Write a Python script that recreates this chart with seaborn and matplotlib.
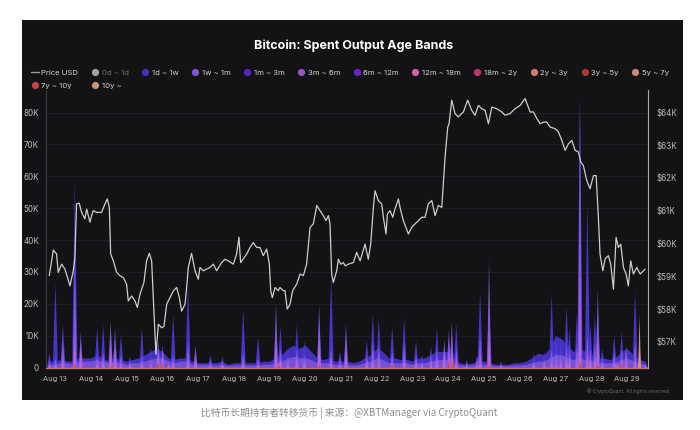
import numpy as np
import pandas as pd
import matplotlib
matplotlib.use("Agg")
import matplotlib.pyplot as plt
from matplotlib.lines import Line2D
from matplotlib.patches import Rectangle
import seaborn as sns

# hours counted from Aug 13 00:00, prices in thousand USD
price_hours = [-3.8, -1.1, 1.1, 2.2, 4.5, 6.7, 10.1, 12.3, 13.4, 14.5,
               16.3, 17.9, 20.1, 21.3, 23.5, 24.6, 25.7, 28.0, 31.3, 33.6,
               35.1, 36.5, 37.4, 39.2, 41.4, 43.6, 45.9, 48.1, 49.2, 51.5,
               53.7, 55.3, 57.1, 59.7, 61.5, 63.3, 64.9, 66.0, 67.8, 69.4,
               71.6, 73.2, 75.0, 77.2, 79.5, 81.7, 83.5, 85.0, 86.2, 87.3,
               88.4, 89.5, 91.7, 94.0, 96.2, 97.3, 99.6, 104.1, 106.3, 108.5,
               111.9, 114.1, 116.4, 119.7, 121.9, 123.5, 124.6, 128.7, 130.9, 133.1,
               135.4, 137.6, 139.8, 142.1, 143.9, 144.8, 145.9, 147.7, 149.9, 151.0,
               153.3, 154.4, 155.9, 157.8, 159.5, 162.2, 164.5, 166.7, 168.9, 171.2,
               173.4, 175.7, 177.9, 180.1, 181.9, 183.5, 184.6, 185.7, 186.8, 189.1,
               190.2, 191.8, 193.6, 194.7, 196.9, 200.3, 202.5, 204.8, 208.1, 210.3,
               211.9, 213.7, 214.8, 217.0, 219.3, 220.4, 222.2, 223.1, 224.9, 226.7,
               228.2, 230.5, 231.6, 233.8, 237.2, 239.4, 241.7, 243.9, 246.2, 248.4,
               250.6, 252.9, 255.1, 257.3, 259.6, 261.8, 263.6, 264.5, 266.3, 268.5,
               270.7, 274.1, 277.0, 279.7, 281.9, 284.2, 286.4, 288.7, 290.9, 293.2,
               296.5, 299.9, 302.1, 305.4, 308.8, 312.2, 315.5, 318.9, 321.1, 323.4,
               325.6, 327.9, 330.1, 332.3, 335.7, 337.9, 340.2, 342.4, 344.6, 346.9,
               349.1, 351.3, 352.9, 354.6, 356.9, 359.1, 361.4, 363.2, 364.7, 365.8,
               367.7, 369.2, 371.4, 373.0, 374.8, 376.6, 378.1, 379.7, 381.5, 383.3,
               384.8, 386.4, 388.2, 390.5, 392.7, 396.1]
price_k = [59.02, 59.80, 59.68, 59.12, 59.37, 59.22, 58.71, 59.17, 59.57, 61.21,
           61.23, 60.95, 60.75, 61.05, 60.65, 60.85, 61.00, 60.95, 60.95, 61.21,
           61.36, 61.10, 59.68, 59.47, 59.12, 59.02, 58.96, 58.76, 58.25, 58.40,
           58.25, 58.05, 58.46, 58.81, 59.47, 59.70, 59.47, 58.35, 56.62, 57.54,
           57.43, 57.48, 58.15, 58.35, 58.56, 58.66, 58.35, 57.94, 58.05, 58.15,
           58.66, 59.27, 59.70, 59.17, 58.91, 59.27, 59.17, 59.27, 59.37, 59.17,
           59.42, 59.52, 59.47, 59.37, 59.68, 60.19, 59.42, 59.68, 59.88, 60.03,
           59.88, 59.88, 59.63, 59.83, 59.37, 58.56, 58.35, 58.66, 58.56, 58.66,
           58.56, 58.56, 58.00, 58.15, 58.56, 58.76, 59.07, 59.02, 59.37, 60.49,
           60.60, 61.16, 61.00, 60.85, 60.70, 60.85, 60.60, 59.07, 58.81, 59.17,
           59.52, 59.37, 59.42, 59.32, 59.37, 59.42, 59.73, 59.47, 59.98, 59.52,
           59.98, 61.10, 61.61, 61.31, 61.21, 60.80, 60.29, 60.90, 61.00, 60.80,
           61.05, 61.36, 61.10, 60.70, 60.29, 60.49, 60.60, 60.70, 60.80, 60.80,
           61.21, 61.31, 60.85, 61.16, 61.10, 62.63, 63.55, 63.65, 64.37, 63.96,
           63.86, 64.01, 64.37, 64.06, 63.91, 64.21, 64.11, 64.06, 63.65, 64.16,
           64.11, 64.01, 63.91, 63.96, 64.11, 64.21, 64.42, 64.01, 64.01, 63.81,
           63.65, 63.70, 63.70, 63.55, 63.50, 63.40, 63.14, 62.84, 63.04, 63.14,
           62.84, 62.79, 62.48, 62.38, 61.92, 61.67, 62.07, 62.07, 60.80, 59.68,
           59.17, 59.53, 59.63, 59.37, 58.61, 60.19, 59.88, 59.98, 59.27, 59.07,
           58.71, 59.47, 59.07, 59.27, 59.07, 59.22]

# background level of spent outputs every 4 hours (thousand BTC)
base_hours = list(range(-4, 397, 4))
base_1d_1w = [2,
              2, 2.5, 2, 2, 3, 3,
              3, 4, 3, 2, 3, 2.5,
              2, 2.5, 3, 4, 5, 6,
              5, 3, 2.5, 3, 3, 2,
              1.5, 1.5, 1.5, 1.5, 2, 1,
              1.5, 1.5, 1.5, 1.5, 1.5, 2,
              2, 3, 4, 6, 7, 6,
              7, 5, 3, 2.5, 3, 2,
              2, 2, 1.5, 2, 3, 4,
              6, 5, 3, 3, 2.5, 2.5,
              2, 3, 3, 4, 5, 5,
              5, 2, 1.5, 1, 1.5, 2,
              2, 1.5, 1, 1, 1, 1.5,
              1.5, 2, 3, 4.5, 4, 6,
              10, 9, 7, 5, 6, 5,
              4, 3, 3, 2.5, 3, 5,
              6, 4, 2.5, 2]
base_1w_1m = [1,
              1, 1.5, 1.5, 1, 2, 2,
              2, 2.5, 2, 1.5, 2, 1.5,
              1, 1.5, 1.5, 2, 2.5, 3,
              3, 2, 1.5, 2, 2, 1,
              1, 1, 0.8, 0.8, 1, 0.6,
              0.8, 0.8, 0.8, 0.8, 0.8, 1,
              1, 1.5, 2, 3, 3.5, 3,
              3, 2.5, 1.5, 1.5, 1.5, 1,
              1, 1, 0.8, 1, 1.5, 2,
              3, 2.5, 1.5, 1.5, 1.5, 1.5,
              1, 1.5, 1.5, 2, 2.5, 2.5,
              2.5, 1, 0.8, 0.6, 0.8, 1,
              1, 0.8, 0.6, 0.6, 0.6, 0.8,
              0.8, 1, 1.5, 2, 2, 3,
              4, 4, 3, 2.5, 3, 2.5,
              2, 1.5, 1.5, 1.5, 1.5, 2.5,
              3, 2, 1.5, 1]

# hourly spikes
spike_hours = [-4, 0, 5, 13, 17, 28, 32, 37, 40, 44, 50, 58, 64, 69, 72, 76, 79, 89,
               94, 104, 112, 126, 136, 148, 151, 156, 162, 167, 177, 185, 191, 195,
               209, 213, 217, 226, 234, 242, 246, 252, 256, 261, 264, 266, 269, 276,
               283, 285, 291, 299, 321, 328, 333, 336, 339, 343, 345, 350, 352, 357,
               359, 362, 364, 367, 375, 377, 380, 383, 389, 392, 396]
spike_1d_1w = [4.7, 26.5, 13.5, 58.6, 8, 12.6, 13.5, 12, 9, 10.3, 3.5, 12.6, 6.3, 7,
               5, 3, 16.5, 26, 5, 4, 3.5, 18.3, 9.5, 14, 13, 5, 13.5, 8.5, 15, 28.5,
               5, 10, 8.5, 17.1, 15.6, 13, 15.6, 8.5, 4, 6.7, 12.4, 6, 9, 10, 13.7,
               2.5, 4, 23.7, 20, 2, 4.5, 5, 23.1, 10, 8.5, 19.2, 12, 17.6, 84.3, 51.9,
               13.5, 16.6, 18, 6, 10.1, 4, 11.2, 5, 23.9, 6, 2]
spike_1w_1m = [2, 3, 9, 35, 11.2, 4, 5, 14.7, 12.5, 4, 2, 4, 3, 8.3, 7, 2, 4, 8, 7,
               2.5, 2, 5, 3, 20.2, 6, 3, 6, 4, 20, 6, 3, 13.8, 4, 8, 7, 5, 8, 4, 2,
               4, 6, 8.8, 11.9, 14.5, 6, 1.5, 3, 10, 34.2, 1, 2, 2.5, 6, 5, 4, 7, 6,
               8, 83.5, 10, 6, 8, 24.8, 3, 5, 2, 6, 7, 8, 4, 1]
spike_3m_6m = [0.5, 1, 3, 10, 6, 1.5, 2, 8, 6, 1.5, 1, 1.5, 1, 5, 4, 1, 2, 3, 3, 1,
               1, 2, 1, 9, 3, 1, 3, 2, 10, 3, 1, 6, 2, 3, 3, 2, 3, 2, 1, 2, 3, 5, 5,
               6, 3, 0.5, 1, 4, 12, 0.5, 1, 1, 2, 2, 2, 3, 3, 3, 30, 4, 3, 4, 10, 1,
               2, 1, 3, 3, 3, 2, 0.5]

# older coins, small moves
old_hours = [13, 38, 69, 72, 150, 177, 226, 264, 267, 291, 352, 364, 380, 392]
old_12m_18m = [3, 2, 2.5, 2, 2, 3, 1.5, 2, 2, 3, 6, 3, 2, 1]
old_7y_10y = [1.5, 1, 2, 1.5, 1, 1, 1.2, 2.5, 3, 1, 1.5, 1, 2, 1.5]
old_10y = [0, 0, 0, 0, 0, 0, 0, 0, 0, 0, 0, 0, 0, 16.3]

band_labels = ["0d ~ 1d", "1d ~ 1w", "1w ~ 1m", "1m ~ 3m", "3m ~ 6m", "6m ~ 12m",
               "12m ~ 18m", "18m ~ 2y", "2y ~ 3y", "3y ~ 5y", "5y ~ 7y", "7y ~ 10y", "10y ~"]
band_colors = ["#a3a3a3", "#4232c2", "#7d55d6", "#5a24c4", "#9b52cc", "#6e22c8",
               "#d062ae", "#c2336f", "#d57c6c", "#a63b2c", "#c98b72", "#c94343", "#cf9468"]

assert len(price_hours) == len(price_k)
assert len(base_hours) == len(base_1d_1w) == len(base_1w_1m)
assert len(spike_hours) == len(spike_1d_1w) == len(spike_1w_1m) == len(spike_3m_6m)

days = pd.date_range("2024-08-13", "2024-08-29", freq="D")
day_hours = [(d - days[0]).days * 24 for d in days]

BG = "#131316"
sns.set_style("dark")
plt.rcParams["font.family"] = ["Inter", "DejaVu Sans"]

fig = plt.figure(figsize=(7, 4.3), dpi=100, facecolor="white")
fig.patches.append(Rectangle((22 / 700, 1 - 400 / 430), 661 / 700, 380 / 430,
                             transform=fig.transFigure, facecolor=BG,
                             edgecolor="none", zorder=-10))
ax = fig.add_axes([46 / 700, 1 - 367.5 / 430, 602 / 700, 277.5 / 430])
ax.set_facecolor(BG)

fig.text(345 / 700, 1 - 222 / 430, "CryptoQuant", color="#2a2a2f",
         fontsize=19, fontweight="semibold", ha="center", va="center", zorder=-5)

C_BLUE, C_VIOLET, C_PINK = "#4c37d8", "#8c5fe2", "#c06ad8"


def draw_spikes(hours, values, half, color, alpha):
    for h, v in zip(hours, values):
        if v > 0:
            ax.fill_between([h - half, h, h + half], [0, v, 0],
                            color=color, alpha=alpha, lw=0)


ax.fill_between(base_hours, base_1d_1w, color=C_BLUE, alpha=0.85, lw=0)
draw_spikes(spike_hours, spike_1d_1w, 1.8, C_BLUE, 0.92)
ax.fill_between(base_hours, base_1w_1m, color=C_VIOLET, alpha=0.7, lw=0)
draw_spikes(spike_hours, spike_1w_1m, 1.3, C_VIOLET, 0.85)
draw_spikes(spike_hours, spike_3m_6m, 1.0, C_PINK, 0.75)
draw_spikes(old_hours, old_12m_18m, 0.9, band_colors[6], 0.8)
draw_spikes(old_hours, old_7y_10y, 0.8, band_colors[11], 0.9)
draw_spikes(old_hours, old_10y, 0.9, "#e09a66", 0.95)

ax.set_xlim(-6, 398)
ax.set_ylim(0, 87.1)
ax.set_yticks(range(0, 81, 10))
ax.set_yticklabels(["0"] + [f"{v}K" for v in range(10, 81, 10)])
ax.set_xticks(day_hours)
ax.set_xticklabels([d.strftime("%b %d") for d in days])
ax.yaxis.grid(True, color="#1f1f24", lw=0.6)
ax.xaxis.grid(False)
ax.tick_params(axis="y", labelsize=5.8, labelcolor="#bcbcbc", length=0, pad=5)
ax.tick_params(axis="x", labelsize=5.4, labelcolor="#bcbcbc", length=2,
               color="#555", pad=4)
for s in ["top", "right"]:
    ax.spines[s].set_visible(False)
ax.spines["left"].set_color("#3c3c42")
ax.spines["left"].set_linewidth(0.8)
ax.spines["bottom"].set_color("#c87262")
ax.spines["bottom"].set_linewidth(1.0)

ax2 = ax.twinx()
sns.lineplot(x=price_hours, y=price_k, ax=ax2, color="#cdcdcd", lw=0.9, sort=False)
ax2.set_ylim(56.22, 64.68)
ax2.set_yticks(range(57, 65))
ax2.set_yticklabels([f"${v}K" for v in range(57, 65)])
ax2.tick_params(axis="y", labelsize=5.8, labelcolor="#bcbcbc", length=0, pad=6)
ax2.grid(False)
for s in ["top", "left", "bottom"]:
    ax2.spines[s].set_visible(False)
ax2.spines["right"].set_color("#a8a8a8")
ax2.spines["right"].set_linewidth(0.8)
ax2.set_xlim(-6, 398)

fig.text(354 / 700, 1 - 46 / 430, "Bitcoin: Spent Output Age Bands", color="white",
         fontsize=9, fontweight="bold", ha="center", va="center")

handles = [Line2D([], [], color="#9a9a9a", lw=1)]
handles += [Line2D([], [], marker="o", ls="none", markersize=5.2,
                   markerfacecolor=c, markeredgecolor="none") for c in band_colors]
labels = ["Price USD"] + band_labels
order = [0, 12, 1, 13] + list(range(2, 12))
leg = fig.legend([handles[i] for i in order], [labels[i] for i in order],
                 loc="upper left", bbox_to_anchor=(31 / 700, 1 - 69.5 / 430),
                 ncol=12, frameon=False, fontsize=5.6, handlelength=1.0,
                 handletextpad=0.35, columnspacing=1.63, labelspacing=0.85,
                 borderaxespad=0, borderpad=0, labelcolor="#d4d4d4")
for t in leg.get_texts():
    if t.get_text() == "0d ~ 1d":
        t.set_color("#6e6e6e")

fig.text(628 / 700, 1 - 391 / 430, "© CryptoQuant. All rights reserved",
         color="#6a6a6a", fontsize=3.6, ha="center", va="center")
fig.text(349 / 700, 1 - 413 / 430,
         "比特币长期持有者转移货币 | 来源：@XBTManager via CryptoQuant",
         color="#8c8c8c", fontsize=7, ha="center", va="center",
         family=["Noto Sans CJK SC", "DejaVu Sans"])

fig.savefig("out.png", dpi=100, facecolor="white")
